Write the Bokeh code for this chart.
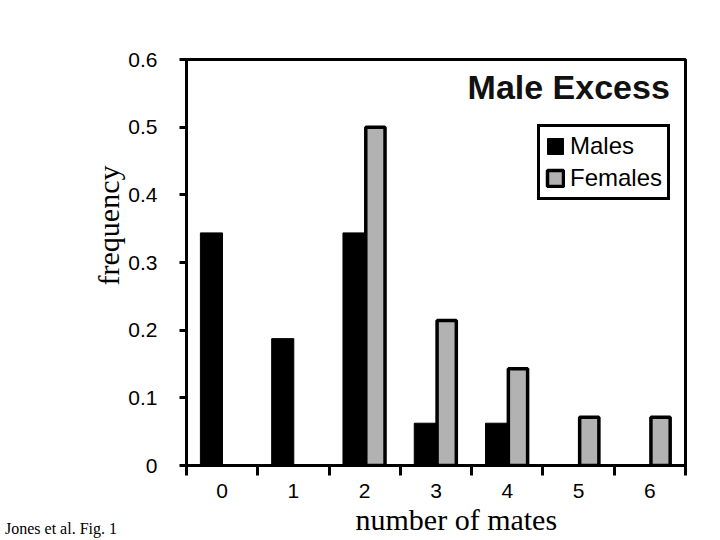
from bokeh.plotting import figure
from bokeh.layouts import column
from bokeh.models import (FixedTicker, Label, Legend, LegendItem, Range1d, Title, Div)
from bokeh.embed import file_html
from bokeh.resources import INLINE

# ---- data ----
categories = [0, 1, 2, 3, 4, 5, 6]
males = [0.34375, 0.1875, 0.34375, 0.0625, 0.0625, 0.0, 0.0]
females = [0.0, 0.0, 0.5, 0.2143, 0.1429, 0.0714, 0.0714]
y_ticks = [0, 0.1, 0.2, 0.3, 0.4, 0.5, 0.6]
y_tick_labels = ["0", "0.1", "0.2", "0.3", "0.4", "0.5", "0.6"]
x_tick_labels = ["0", "1", "2", "3", "4", "5", "6"]
title_text = "Male Excess"
series_names = ["Males", "Females"]
y_label = "frequency"
x_label = "number of mates"
footnote = "Jones et al. Fig. 1"

p = figure(frame_width=499, frame_height=406, output_backend="svg", toolbar_location=None,
           x_range=Range1d(-0.5, 6.5), y_range=Range1d(0, 0.6),
           min_border_left=186, min_border_right=27, min_border_top=59,
           min_border_bottom=40)
p.background_fill_color = "white"
p.border_fill_color = "white"
p.outline_line_color = "black"
p.outline_line_width = 3
p.xgrid.visible = False
p.ygrid.visible = False

m_x = [c - 0.15 for c, v in zip(categories, males) if v > 0]
m_y = [v for v in males if v > 0]
f_x = [c + 0.15 for c, v in zip(categories, females) if v > 0]
f_y = [v for v in females if v > 0]

rm = p.vbar(x=m_x, top=m_y, bottom=0, width=0.31, fill_color="black", line_color="black", line_width=1)
rf = p.vbar(x=f_x, top=f_y, bottom=0, width=0.27, fill_color="#b2b2b2", line_color="black", line_width=3.5)

# axes
xa = p.xaxis[0]
xa.ticker = FixedTicker(ticks=categories, minor_ticks=[c - 0.5 for c in categories] + [6.5])
xa.major_label_overrides = {c: l for c, l in zip(categories, x_tick_labels)}
xa.major_tick_out = 0
xa.major_tick_in = 0
xa.minor_tick_out = 10
xa.minor_tick_in = 0
xa.minor_tick_line_width = 3
xa.minor_tick_line_color = "black"
xa.axis_line_width = 3
xa.major_label_text_font = "Liberation Sans"
xa.major_label_text_font_size = "21px"
xa.major_label_text_color = "black"
xa.major_label_standoff = 8

ya = p.yaxis[0]
ya.ticker = FixedTicker(ticks=y_ticks)
ya.major_label_overrides = {t: l for t, l in zip(y_ticks, y_tick_labels)}
ya.minor_tick_out = 0
ya.minor_tick_in = 0
ya.major_tick_out = 7
ya.major_tick_in = 0
ya.major_tick_line_width = 3
ya.axis_line_width = 3
ya.major_label_text_font = "Liberation Sans"
ya.major_label_text_font_size = "21px"
ya.major_label_text_color = "black"
ya.major_label_standoff = 22

# title inside the plot
p.add_layout(Label(x=6.28, y=0.56, text=title_text, text_align="right", text_baseline="middle",
                   text_font="Liberation Sans", text_font_style="bold", text_font_size="34px",
                   text_color="#111111"))

legend = Legend(items=[LegendItem(label=series_names[0], renderers=[rm]),
                       LegendItem(label=series_names[1], renderers=[rf])],
                location=(351, 265), border_line_color="black", border_line_width=3,
                border_line_alpha=1.0,
                background_fill_color="white", background_fill_alpha=1,
                label_text_font="Liberation Sans", label_text_font_size="24px",
                label_text_color="black",
                glyph_width=20, glyph_height=20, label_height=20, spacing=4,
                padding=5, label_standoff=5, margin=0)
p.add_layout(legend)

# axis titles as side titles
p.add_layout(Title(text=y_label, align="right", offset=106, standoff=2,
                   text_font="Liberation Serif", text_font_size="30px",
                   text_font_style="normal", text_color="black"), "left")
p.add_layout(Title(text=x_label, align="left", offset=169, standoff=0,
                   text_font="Liberation Serif", text_font_size="30px",
                   text_font_style="normal", text_color="black"), "below")

# footnote below the figure, pulled up into the bottom-left corner
note = Div(text=footnote, margin=(-15, 0, 0, 5), width=200, height=18,
           styles={"font-family": "Liberation Serif", "font-size": "16px",
                   "color": "black", "line-height": "18px"})

layout = column(p, note, spacing=0)
open("out.html", "w").write(file_html(layout, INLINE))
